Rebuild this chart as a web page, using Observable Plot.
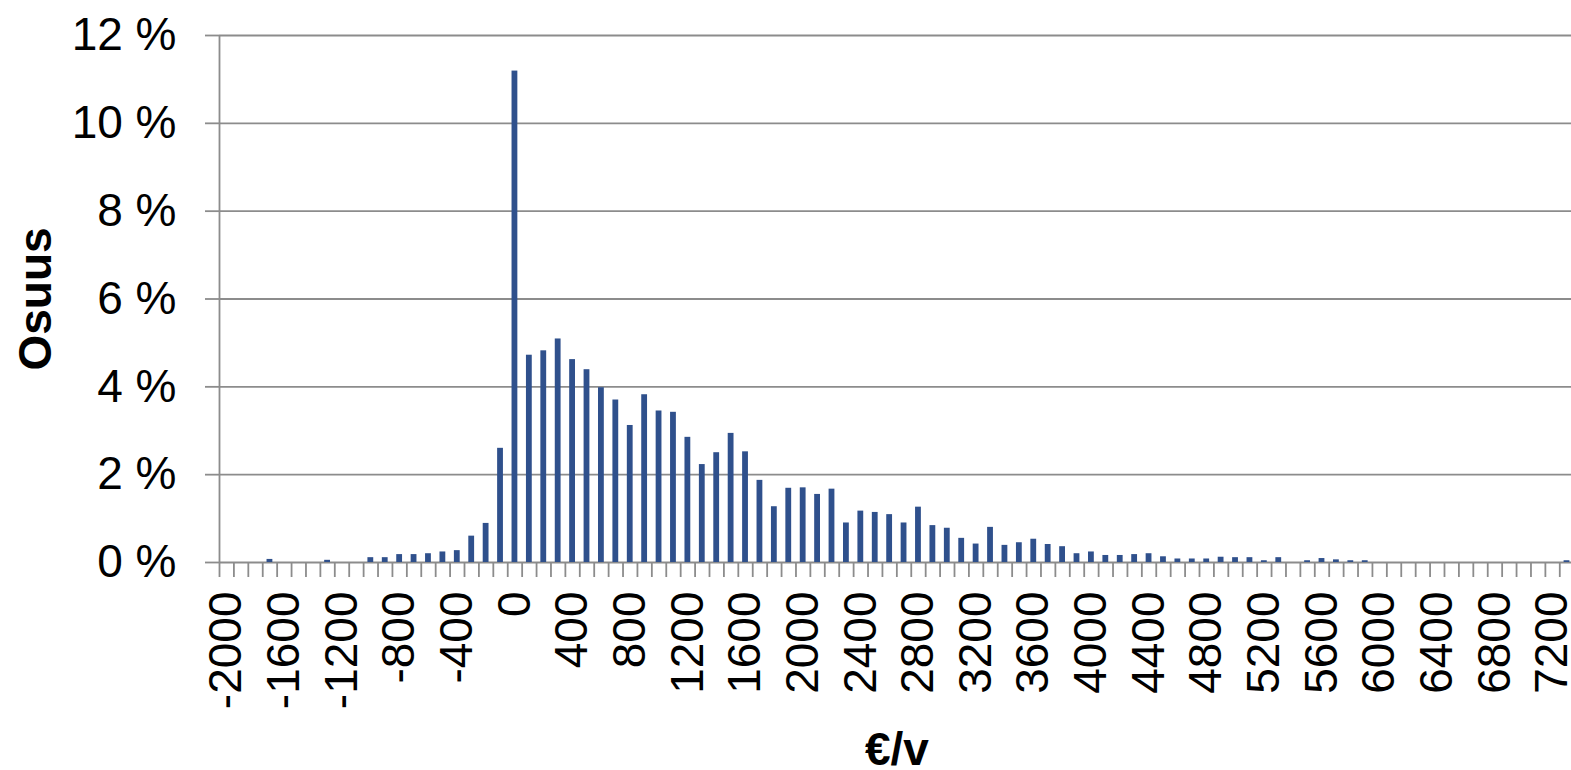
<!DOCTYPE html>
<html>
<head>
<meta charset="utf-8">
<script src="https://cdn.jsdelivr.net/npm/d3@7"></script>
<script src="https://cdn.jsdelivr.net/npm/@observablehq/plot@0.6"></script>
<style>
  html, body { margin: 0; padding: 0; overflow: hidden; background: white; }
  svg { max-width: none !important; display: block; }
</style>
</head>
<body>
<div id="chart"></div>
<script>
// categories (€/v, bin of 100)
const categories = d3.range(-2000, 7301, 100);
// share (%) per category
const shares = [
  0, 0, 0, 0.07, 0, 0, 0, 0.05, 0, 0,
  0.11, 0.11, 0.18, 0.18, 0.20, 0.24, 0.27, 0.60, 0.89, 2.60,
  11.19, 4.72, 4.82, 5.09, 4.62, 4.39, 3.98, 3.70, 3.12, 3.82,
  3.45, 3.42, 2.85, 2.23, 2.50, 2.94, 2.52, 1.87, 1.27, 1.69,
  1.70, 1.55, 1.67, 0.90, 1.17, 1.14, 1.09, 0.90, 1.26, 0.84,
  0.78, 0.55, 0.42, 0.80, 0.39, 0.45, 0.53, 0.41, 0.36, 0.20,
  0.24, 0.16, 0.16, 0.18, 0.20, 0.13, 0.08, 0.08, 0.08, 0.12,
  0.11, 0.11, 0.04, 0.11, 0, 0.04, 0.09, 0.06, 0.04, 0.04,
  0, 0, 0, 0, 0, 0, 0, 0, 0, 0,
  0, 0, 0, 0.04
];
// tick labels on x axis
const xLabels = ["-2000", "-1600", "-1200", "-800", "-400", "0", "400", "800", "1200", "1600", "2000", "2400", "2800", "3200", "3600", "4000", "4400", "4800", "5200", "5600", "6000", "6400", "6800", "7200"];
// y ticks (%)
const yTicks = [0, 2, 4, 6, 8, 10, 12];

const binWidth = 100;
const data = categories.map((c, i) => ({cat: c, val: shares[i]}));
const boundaries = categories.map(c => c - binWidth / 2).concat([categories[categories.length - 1] + binWidth / 2]);

const font = "'Liberation Sans', Arial, sans-serif";
const gray = "#8c8c8c";

const chart = Plot.plot({
  width: 1580,
  height: 770,
  marginLeft: 219,
  marginRight: 6.3,
  marginTop: 35,
  marginBottom: 208,
  style: {fontFamily: font, background: "white", color: "black"},
  x: {type: "linear", domain: [boundaries[0], boundaries[boundaries.length - 1]]},
  y: {domain: [0, 12]},
  marks: [
    Plot.gridY(yTicks, {stroke: gray, strokeOpacity: 1, strokeWidth: 1.8}),
    Plot.ruleX([boundaries[0]], {stroke: gray, strokeWidth: 1.8}),
    Plot.axisX({ticks: boundaries, tickSize: 15, tickFormat: () => "", stroke: gray, strokeWidth: 1.8, label: null}),
    Plot.axisY({ticks: yTicks, tickSize: 14, tickPadding: 29, tickFormat: d => d + " %", fontSize: 46, stroke: gray, strokeWidth: 1.8, fill: "black", label: null}),
    Plot.rectY(data, {x1: d => d.cat - binWidth / 2, x2: d => d.cat + binWidth / 2, y: "val", fill: "#2f508c", insetLeft: 4.3, insetRight: 4.3}),
    Plot.text(xLabels, {x: d => +d, text: d => d, frameAnchor: "bottom", dy: 29, rotate: -90, textAnchor: "end", lineAnchor: "middle", fontSize: 46, fill: "black"}),
    Plot.text(["Osuus"], {frameAnchor: "left", dx: -183, rotate: -90, textAnchor: "middle", lineAnchor: "middle", fontSize: 46, fontWeight: "bold", fill: "black"}),
    Plot.text(["€/v"], {frameAnchor: "bottom", dy: 188, textAnchor: "middle", lineAnchor: "middle", fontSize: 46, fontWeight: "bold", fill: "black"})
  ]
});
document.getElementById("chart").appendChild(chart);
</script>
</body>
</html>
